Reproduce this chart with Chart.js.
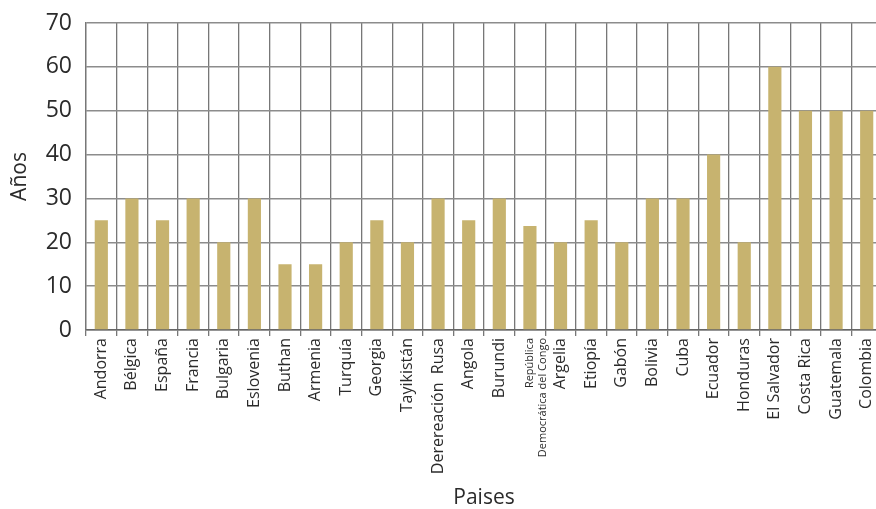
<!DOCTYPE html>
<html lang="es">
<head>
<meta charset="utf-8">
<script src="https://cdn.jsdelivr.net/npm/chart.js@4/dist/chart.umd.min.js"></script>
<style>
  html, body { margin: 0; padding: 0; background: #ffffff; overflow: hidden; }
  #wrap { width: 882px; height: 509px; position: relative; }
</style>
</head>
<body>
<div id="wrap"><canvas id="chart"></canvas></div>
<script>
// Países y años
const paises = [
  'Andorra', 'Bélgica', 'España', 'Francia', 'Bulgaria', 'Eslovenia', 'Buthan',
  'Armenia', 'Turquía', 'Georgia', 'Tayikistán', 'Derereación  Rusa', 'Angola',
  'Burundi', ['República', 'Democrática del Congo'], 'Argelia', 'Etiopía', 'Gabón',
  'Bolivia', 'Cuba', 'Ecuador', 'Honduras', 'El Salvador', 'Costa Rica',
  'Guatemala', 'Colombia'
];
const anos = [
  25, 30, 25, 30, 20, 30, 15,
  15, 20, 25, 20, 30, 25,
  30, 23.7, 20, 25, 20,
  30, 30, 40, 20, 60, 50,
  50, 50
];
const yTicks = [0, 10, 20, 30, 40, 50, 60, 70];

const FAMILY = "'Open Sans', 'Noto Sans', sans-serif";
const TEXT = '#2b2b2b';

new Chart(document.getElementById('chart'), {
  type: 'bar',
  data: {
    labels: paises,
    datasets: [{
      data: anos,
      backgroundColor: '#C7B36F',
      borderWidth: 0,
      barPercentage: 0.43,
      categoryPercentage: 1
    }]
  },
  options: {
    responsive: true,
    maintainAspectRatio: false,
    animation: false,
    layout: { padding: { top: 23, left: 0, right: 0, bottom: 0 } },
    plugins: { legend: { display: false }, tooltip: { enabled: false } },
    scales: {
      x: {
        afterFit: s => { s.height = 179; s.paddingLeft = 0; s.paddingRight = 0; },
        grid: { color: '#777777', lineWidth: 1.3, offset: true, tickLength: 6, drawTicks: true },
        border: { color: '#666666', width: 1.5 },
        ticks: {
          color: TEXT,
          minRotation: 90,
          maxRotation: 90,
          autoSkip: false,
          padding: 2,
          font: ctx => (ctx.index === 14
            ? { family: FAMILY, size: 11 }
            : { family: FAMILY, size: 16 })
        },
        title: {
          display: true,
          text: 'Paises',
          color: TEXT,
          font: { family: FAMILY, size: 21, lineHeight: 1.0 },
          padding: { top: 0, bottom: 0 }
        }
      },
      y: {
        min: 0,
        max: 70,
        afterFit: s => { s.width = 86; s.paddingTop = 0; s.paddingBottom = 0; },
        afterBuildTicks: s => { s.ticks = yTicks.map(v => ({ value: v })); },
        grid: { color: '#8c8c8c', lineWidth: 1.5, drawTicks: false },
        border: { color: '#777777', width: 1.3 },
        ticks: {
          color: TEXT,
          padding: 14,
          font: { family: FAMILY, size: 23 }
        },
        title: {
          display: true,
          text: 'Años',
          color: TEXT,
          font: { family: FAMILY, size: 21 },
          padding: { top: 7, bottom: 0 }
        }
      }
    }
  }
});
</script>
</body>
</html>
